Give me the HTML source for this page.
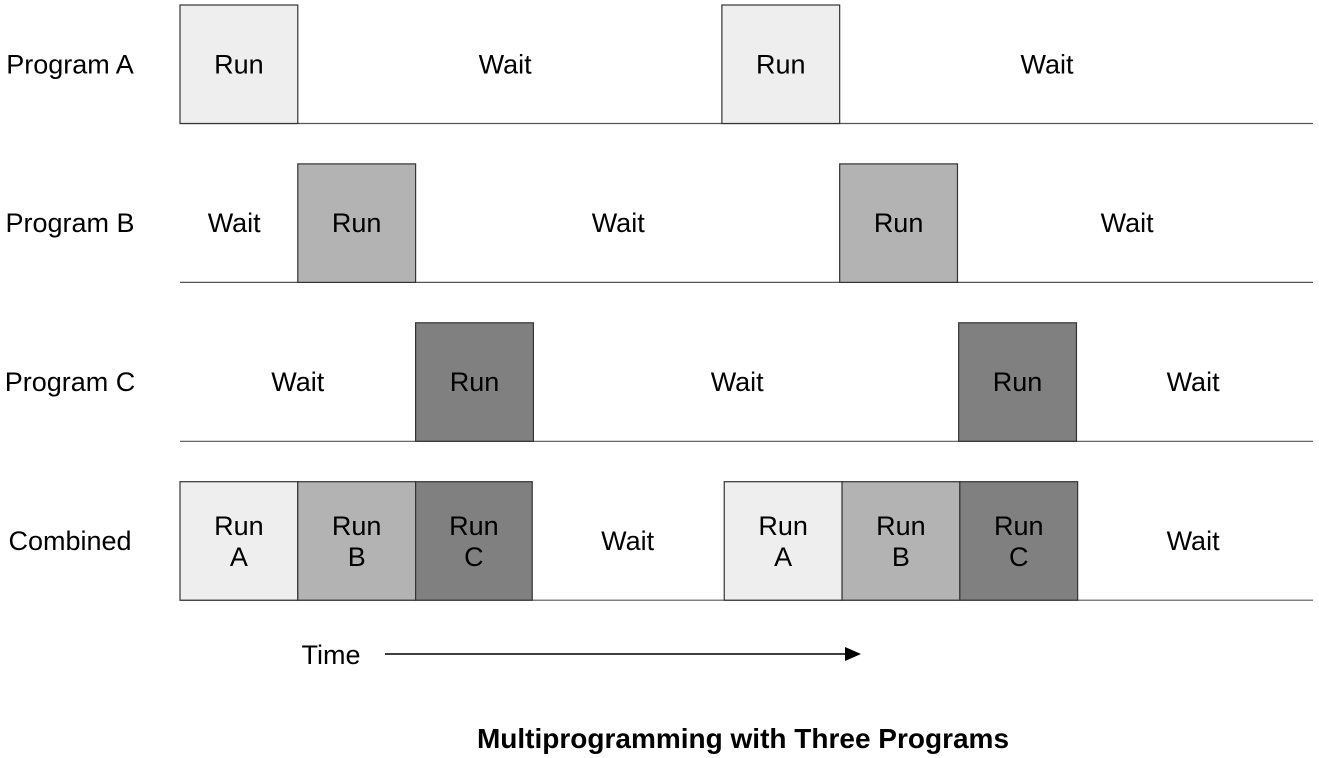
<!DOCTYPE html>
<html><head><meta charset="utf-8"><style>
html,body{margin:0;padding:0;background:#fff;}
svg{display:block;font-family:"Liberation Sans",sans-serif;}
</style></head><body>
<svg id="chart" width="1319" height="758" viewBox="0 0 1319 758">
<g id="rows"></g>
<g>
<text x="331" y="664" font-size="27" text-anchor="middle">Time</text>
<line x1="385" y1="654" x2="846" y2="654" stroke="#000" stroke-width="1.5"/>
<polygon points="845,647 861,654 845,661" fill="#000"/>
</g>
<text x="743" y="748" font-size="28" font-weight="bold" text-anchor="middle">Multiprogramming with Three Programs</text>
</svg>
<script>
const rowLabels = ["Program A","Program B","Program C","Combined"];
const runStarts = [[0,4.6],[1,5.6],[2,6.61],[0,1,2,4.62,5.62,6.62]];
const runLabels = [["Run","Run"],["Run","Run"],["Run","Run"],["Run|A","Run|B","Run|C","Run|A","Run|B","Run|C"]];
const runShades = [[0,0],[1,1],[2,2],[0,1,2,0,1,2]];
const waitCenters = [[2.76,7.36],[0.46,3.72,8.04],[1.0,4.73,8.6],[3.80,8.6]];
const runWidths = [[1,1],[1,1],[1,1],[1,1,0.99,1,1,1]];
const fills = ["#eeeeee","#b3b3b3","#808080"];
const X0 = 180, UNIT = 117.8, ROW_TOP = 5, ROW_STEP = 158.9, ROW_H = 118.5;
const xs = t => X0 + t*UNIT;
const ys = r => ROW_TOP + r*ROW_STEP;
const NS = "http://www.w3.org/2000/svg";
const g = document.getElementById("rows");
function mk(tag, attrs){const e=document.createElementNS(NS,tag);for(const k in attrs)e.setAttribute(k,attrs[k]);return e;}
rowLabels.forEach((lab,r)=>{
  const top = ys(r), bot = top+ROW_H, mid = top+ROW_H/2;
  const t = mk("text",{x:70,y:mid+9,"font-size":27,"text-anchor":"middle"});
  t.textContent = lab;
  
  
  g.appendChild(t);
  const ln = mk("line",{x1:X0,y1:bot,x2:1313,y2:bot,stroke:"#555","stroke-width":1.2});
  
  
  g.appendChild(ln);
  runStarts[r].forEach((s,i)=>{
    const w = runWidths[r][i]*UNIT;
    const rc = mk("rect",{x:xs(s),y:top,width:w,height:ROW_H,fill:fills[runShades[r][i]],stroke:"#333","stroke-width":1.2});
    
    
    g.appendChild(rc);
    const parts = runLabels[r][i].split("|");
    parts.forEach((p,j)=>{
      const yy = parts.length===1 ? mid+9 : mid-6+j*31;
      const tx = mk("text",{x:xs(s)+w/2,y:yy,"font-size":27,"text-anchor":"middle"});
      tx.textContent = p;
      
      
      g.appendChild(tx);
    });
  });
  waitCenters[r].forEach(c=>{
    const tx = mk("text",{x:xs(c),y:mid+9,"font-size":27,"text-anchor":"middle"});
    tx.textContent = "Wait";
    
    
    g.appendChild(tx);
  });
});
</script>
</body></html>
